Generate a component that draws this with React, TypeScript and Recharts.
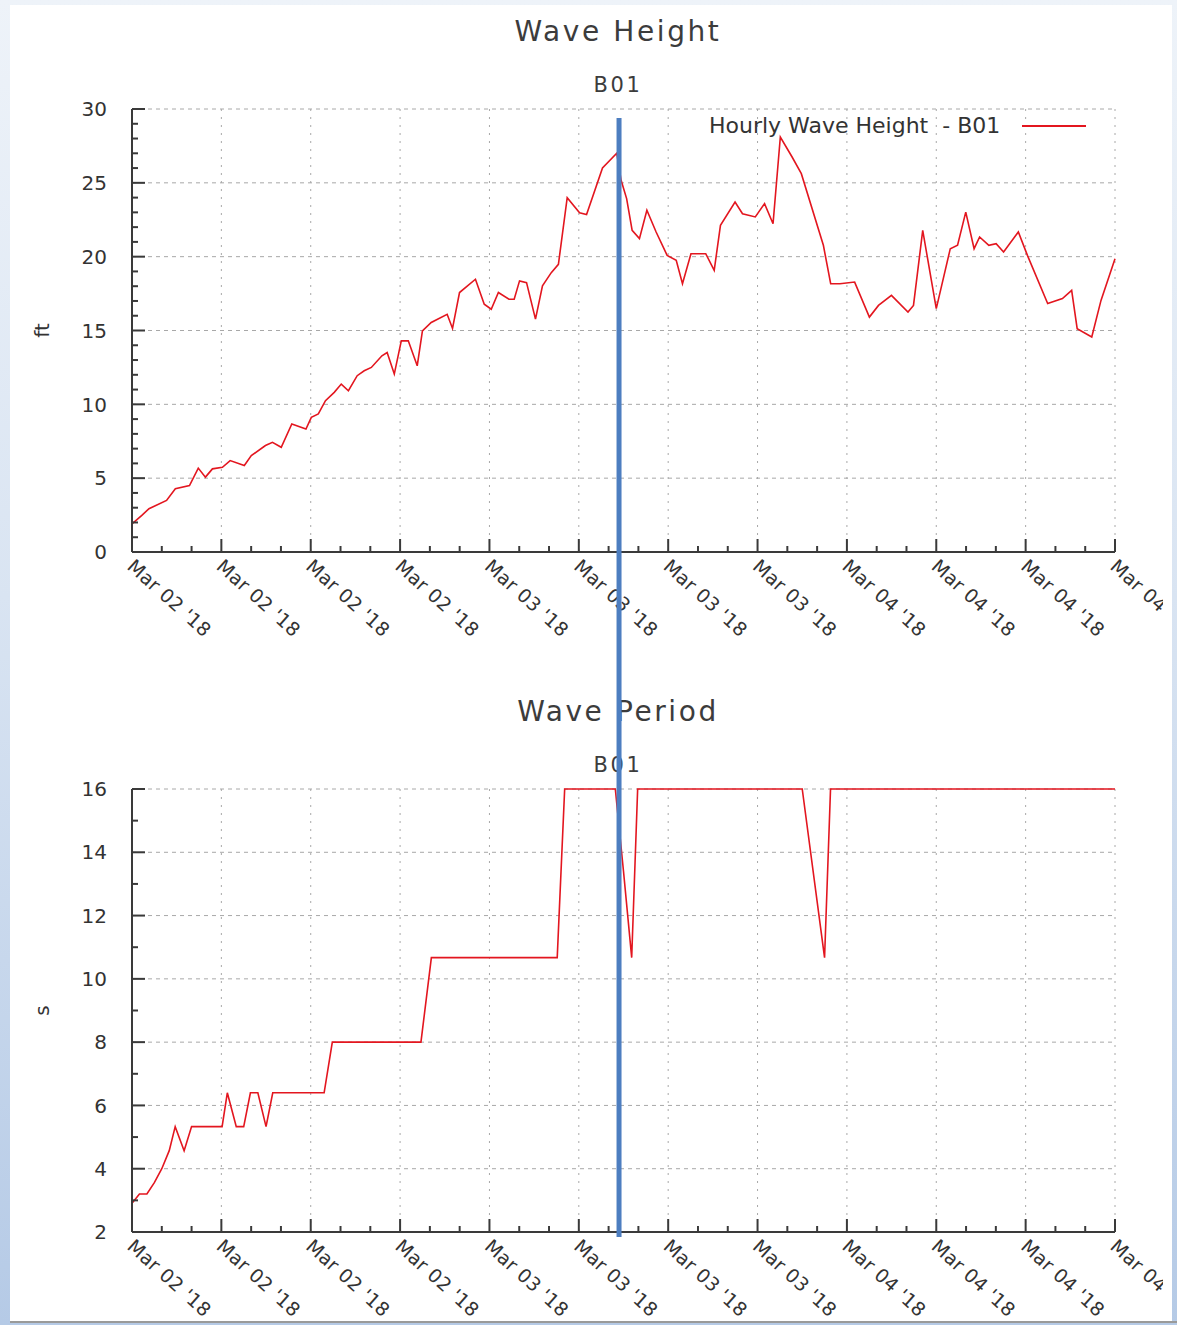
import { CartesianGrid, Legend, Line, LineChart, ReferenceLine, XAxis, YAxis } from "recharts";

// ── Data: buoy B01, hours since Mar 02 '18 00:00 ──
const HEIGHT_HOURS = [
  0, 0.66, 1.14, 2.32, 2.91, 3.86, 4.45, 4.93, 5.4, 6.07, 6.59, 7.54, 8.01, 8.96, 9.43, 10.02,
  10.73, 11.68, 12.04, 12.51, 12.99, 13.58, 14.05, 14.53, 15.12, 15.59, 16.07, 16.78, 17.13,
  17.61, 18.08, 18.55, 19.15, 19.5, 20.09, 21.16, 21.52, 21.99, 23.06, 23.65, 24.12, 24.6,
  25.31, 25.66, 26.02, 26.49, 27.09, 27.56, 28.15, 28.63, 29.22, 30.05, 30.52, 31.59, 32.55,
  32.84, 33.21, 33.58, 34.07, 34.57, 35.19, 35.93, 36.54, 36.96, 37.53, 38.52, 39.09, 39.51,
  40.49, 40.99, 41.85, 42.47, 43.04, 43.53, 44.32, 44.94, 46.42, 46.91, 47.53, 48.52, 49.51,
  50.12, 50.99, 52.1, 52.47, 53.09, 54.0, 54.94, 55.43, 55.98, 56.54, 56.91, 57.53, 58.02,
  58.52, 59.51, 60.12, 61.48, 62.47, 63.09, 63.46, 64.44, 65.06, 66,
];
const HEIGHT_FT = [
  1.9, 2.48, 2.93, 3.49, 4.28, 4.5, 5.68, 5.07, 5.63, 5.74, 6.19, 5.86, 6.53, 7.21, 7.43, 7.09,
  8.67, 8.33, 9.12, 9.35, 10.25, 10.81, 11.37, 10.92, 11.94, 12.27, 12.5, 13.29, 13.51,
  12.05, 14.3, 14.3, 12.61, 14.98, 15.54, 16.1, 15.14, 17.57, 18.47, 16.78, 16.44, 17.57,
  17.12, 17.12, 18.36, 18.24, 15.77, 18.02, 18.92, 19.48, 23.99, 22.97, 22.86, 26.01, 27.0,
  25.17, 23.93, 21.78, 21.22, 23.14, 21.67, 20.09, 19.75, 18.17, 20.2, 20.2, 19.07, 22.12,
  23.7, 22.91, 22.69, 23.59, 22.23, 28.1, 26.75, 25.62, 20.77, 18.17, 18.17, 18.28, 15.91,
  16.7, 17.38, 16.25, 16.7, 21.78, 16.48, 20.54, 20.77, 23.02, 20.54, 21.33, 20.77, 20.88,
  20.32, 21.67, 20.09, 16.82, 17.16, 17.72, 15.12, 14.56, 17.04, 19.86,
];

const PERIOD_HOURS = [
  0, 0.5, 1.0, 1.5, 2.0, 2.5, 2.9, 3.5, 4.0, 6.05, 6.4, 7.0, 7.5, 7.95, 8.45, 9.0, 9.45,
  12.9, 13.45, 19.4, 20.1, 28.55, 29.05, 32.45, 33.0, 33.55, 33.95, 45.0, 46.5, 46.9, 66,
];
const PERIOD_S = [
  2.91, 3.2, 3.2, 3.56, 4.0, 4.57, 5.33, 4.57, 5.33, 5.33, 6.4, 5.33, 5.33, 6.4, 6.4, 5.33, 6.4,
  6.4, 8, 8, 10.67, 10.67, 16, 16, 13.4, 10.67, 16, 16, 10.67, 16, 16,
];

const HOUR_TICKS = [
  0, 2, 4, 6, 8, 10, 12, 14, 16, 18, 20, 22, 24, 26, 28, 30, 32, 34, 36, 38, 40, 42, 44, 46,
  48, 50, 52, 54, 56, 58, 60, 62, 64, 66,
];
const DAY_LABELS = [
  "Mar 02 '18", "Mar 02 '18", "Mar 02 '18", "Mar 02 '18",
  "Mar 03 '18", "Mar 03 '18", "Mar 03 '18", "Mar 03 '18",
  "Mar 04 '18", "Mar 04 '18", "Mar 04 '18", "Mar 04 '18",
];
const HEIGHT_TICKS = [
  0, 1, 2, 3, 4, 5, 6, 7, 8, 9, 10, 11, 12, 13, 14, 15, 16, 17, 18, 19, 20, 21, 22, 23, 24,
  25, 26, 27, 28, 29, 30,
];
const PERIOD_TICKS = [2, 3, 4, 5, 6, 7, 8, 9, 10, 11, 12, 13, 14, 15, 16];

// hour where the blue marker crosses both panels
const MARKER_HOUR = 32.7;

const heightData = HEIGHT_HOURS.map((h, i) => ({ h, v: HEIGHT_FT[i] }));
const periodData = PERIOD_HOURS.map((h, i) => ({ h, v: PERIOD_S[i] }));

const FONT = "'DejaVu Sans', sans-serif";
const RED = "#e3161f";
const AXIS = "#3a3a3a";
const GRID = "#a8a8a8";
const TEXT = "#333";
const BLUE = "#4d7ec0";

const CHART_W = 1163;

function HourTick(props: any) {
  const { x, y, payload } = props;
  const major = payload.value % 6 === 0;
  const label = DAY_LABELS[payload.value / 6];
  const ax = x - 6;
  const ay = y + 16;
  return (
    <g>
      <line x1={x} x2={x} y1={y} y2={y - (major ? 13 : 6)} stroke={AXIS} strokeWidth={2} />
      {major && label && (
        <text
          x={ax}
          y={ay}
          transform={`rotate(42 ${ax} ${ay})`}
          fontFamily={FONT}
          fontSize={19}
          letterSpacing={0.3}
          fill={TEXT}
          textAnchor="start"
        >
          {label}
        </text>
      )}
    </g>
  );
}

function makeValueTick(step: number) {
  return function ValueTick(props: any) {
    const { x, y, payload } = props;
    const major = payload.value % step === 0;
    return (
      <g>
        <line x1={x} x2={x + (major ? 13 : 6)} y1={y} y2={y} stroke={AXIS} strokeWidth={2} />
        {major && (
          <text x={x - 25} y={y} dy="0.36em" textAnchor="end" fontFamily={FONT} fontSize={20} fill={TEXT}>
            {payload.value}
          </text>
        )}
      </g>
    );
  };
}

function LegendBox({ label }: { label: string }) {
  return (
    <div
      style={{
        display: "flex",
        alignItems: "center",
        fontFamily: FONT,
        fontSize: 22,
        color: TEXT,
        whiteSpace: "pre",
        lineHeight: "24px",
      }}
    >
      <span>{label}</span>
      <svg width={64} height={6} style={{ marginLeft: 22 }}>
        <line x1={0} x2={64} y1={3} y2={3} stroke={RED} strokeWidth={2} />
      </svg>
    </div>
  );
}

type PanelProps = {
  data: { h: number; v: number }[];
  height: number;
  bottom: number;
  xAxisHeight: number;
  domain: [number, number];
  ticks: number[];
  majorStep: number;
  unit: string;
  legend: string;
  legendLeft: number;
  legendTop: number;
  markerFromTop: boolean;
};

function WavePanel(p: PanelProps) {
  const gridY = p.ticks.filter((t) => t % p.majorStep === 0);
  const gridX = HOUR_TICKS.filter((t) => t % 6 === 0);
  return (
    <div style={{ width: CHART_W, height: p.height, overflow: "hidden" }}>
      <LineChart
        width={CHART_W}
        height={p.height}
        data={p.data}
        margin={{ top: 109, right: 48, left: 20, bottom: p.bottom }}
      >
        <CartesianGrid
          vertical={false}
          horizontalValues={gridY}
          stroke={GRID}
          strokeDasharray="4 4"
        />
        <CartesianGrid
          horizontal={false}
          verticalValues={gridX}
          stroke={GRID}
          strokeDasharray="2 6"
        />
        <XAxis
          type="number"
          dataKey="h"
          domain={[0, 66]}
          ticks={HOUR_TICKS}
          interval={0}
          height={p.xAxisHeight}
          tickSize={0}
          tickMargin={0}
          tickLine={false}
          axisLine={{ stroke: AXIS, strokeWidth: 2 }}
          tick={<HourTick />}
        />
        <YAxis
          type="number"
          domain={p.domain}
          ticks={p.ticks}
          interval={0}
          width={112}
          tickSize={0}
          tickMargin={0}
          tickLine={false}
          axisLine={{ stroke: AXIS, strokeWidth: 2 }}
          tick={makeValueTick(p.majorStep)}
          label={{
            value: p.unit,
            angle: -90,
            position: "insideLeft",
            offset: 22,
            style: { fontFamily: FONT, fontSize: 20, fill: TEXT, textAnchor: "middle" },
          }}
        />
        <Legend
          layout="vertical"
          align="center"
          verticalAlign="middle"
          wrapperStyle={{ left: p.legendLeft, top: p.legendTop }}
          content={() => <LegendBox label={p.legend} />}
        />
        <Line
          type="linear"
          dataKey="v"
          stroke={RED}
          strokeWidth={1.6}
          dot={false}
          isAnimationActive={false}
        />
        <ReferenceLine
          x={MARKER_HOUR}
          zIndex={3000}
          shape={(s: any) => {
            const top = Math.min(s.y1, s.y2);
            const bot = Math.max(s.y1, s.y2);
            return (
              <line
                x1={s.x1}
                x2={s.x2}
                y1={p.markerFromTop ? top + 9 : 0}
                y2={p.markerFromTop ? p.height : bot + 5}
                stroke={BLUE}
                strokeWidth={5}
              />
            );
          }}
        />
      </LineChart>
    </div>
  );
}

const titleStyle = (top: number, size: number, spacing: number) => ({
  position: "absolute" as const,
  left: 0,
  width: 1236,
  top,
  textAlign: "center" as const,
  fontFamily: FONT,
  fontSize: size,
  lineHeight: `${size}px`,
  letterSpacing: spacing,
  color: "#3c3c3c",
});

export default function App() {
  return (
    <div
      style={{
        position: "absolute",
        left: 0,
        top: 0,
        width: 1177,
        height: 1325,
        overflow: "hidden",
        background: "linear-gradient(180deg, #eef3f9 0%, #d9e4f2 45%, #b5cae6 100%)",
      }}
    >
      {/* slide panel */}
      <div style={{ position: "absolute", left: 10, top: 5, width: 1162, height: 1316, background: "#fff" }} />
      <div style={{ position: "absolute", left: 10, top: 1321, width: 1167, height: 2, background: "#9a9a9a" }} />

      <div style={titleStyle(18, 28, 2.6)}>Wave Height</div>
      <div style={titleStyle(75, 21, 2.6)}>B01</div>
      <div style={titleStyle(698, 28, 2.6)}>Wave Period</div>
      <div style={titleStyle(755, 21, 2.6)}>B01</div>

      <div style={{ position: "absolute", left: 0, top: 0 }}>
        <WavePanel
          data={heightData}
          height={680}
          bottom={28}
          xAxisHeight={100}
          domain={[0, 30]}
          ticks={HEIGHT_TICKS}
          majorStep={5}
          unit="ft"
          legend="Hourly Wave Height  - B01"
          legendLeft={709}
          legendTop={114}
          markerFromTop={true}
        />
      </div>
      <div style={{ position: "absolute", left: 0, top: 680 }}>
        <WavePanel
          data={periodData}
          height={645}
          bottom={13}
          xAxisHeight={80}
          domain={[2, 16]}
          ticks={PERIOD_TICKS}
          majorStep={2}
          unit="s"
          legend="Hourly Wave Period  - B01"
          legendLeft={713}
          legendTop={794}
          markerFromTop={false}
        />
      </div>
    </div>
  );
}
